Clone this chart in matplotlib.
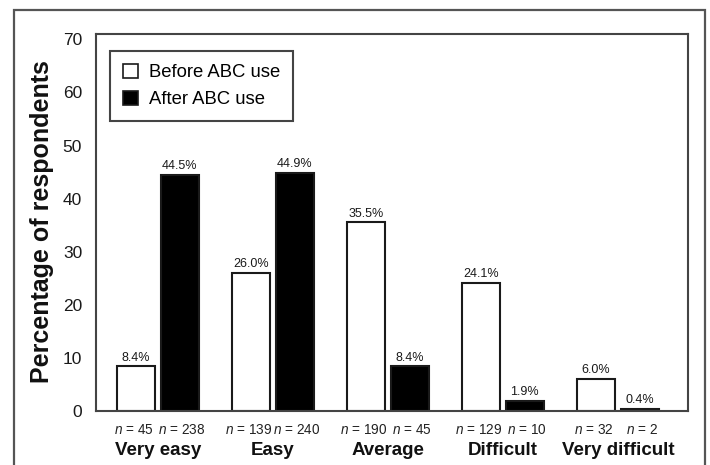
import matplotlib
matplotlib.use("Agg")
import matplotlib.pyplot as plt
from matplotlib.patches import Patch, Rectangle
import numpy as np

categories = ["Very easy", "Easy", "Average", "Difficult", "Very difficult"]
before_pct = [8.4, 26.0, 35.5, 24.1, 6.0]
after_pct = [44.5, 44.9, 8.4, 1.9, 0.4]
before_n = [45, 139, 190, 129, 32]
after_n = [238, 240, 45, 10, 2]
yticks = [0, 10, 20, 30, 40, 50, 60, 70]
legend_labels = ["Before ABC use", "After ABC use"]

plt.rcParams['font.family'] = ['Liberation Sans', 'DejaVu Sans']
plt.rcParams['mathtext.fontset'] = 'custom'
plt.rcParams['mathtext.it'] = 'Liberation Sans:italic'
plt.rcParams['mathtext.rm'] = 'Liberation Sans'

W, H = 710, 465
fig = plt.figure(figsize=(W / 100, H / 100), dpi=100)
fig.patch.set_facecolor('white')

# outer frame
fig.patches.append(Rectangle((14 / W, -0.05), (705 - 14) / W, 1.05 - 10 / H,
                             transform=fig.transFigure, fill=False,
                             edgecolor='#555555', linewidth=1.6))

ax = fig.add_axes([96 / W, 1 - 411 / H, (688 - 96) / W, (411 - 34) / H])
x = np.arange(len(categories))
bw = 0.33
off = 0.19
noff = 0.209
edge = '#1a1a1a'
ax.bar(x - off, before_pct, bw, color='white', edgecolor=edge, linewidth=1.5, zorder=2)
ax.bar(x + off, after_pct, bw, color='black', edgecolor=edge, linewidth=1.5, zorder=2)

ax.set_xlim(-0.54, 4.61)
ax.set_ylim(0, 71)
ax.set_yticks(yticks)
ax.set_yticklabels([str(t) for t in yticks], fontsize=12.5, color='#1a1a1a')
ax.tick_params(axis='y', length=0, pad=10)
ax.set_xticks([])
for s in ax.spines.values():
    s.set_color('#444444')
    s.set_linewidth(1.5)

pct_font = ['Liberation Sans Narrow', 'Liberation Sans', 'DejaVu Sans']
for xi, v in zip(x - off, before_pct):
    ax.text(xi, v + 0.5, f"{v:.1f}%", ha='center', va='bottom', fontsize=9,
            family=pct_font, color='#1a1a1a')
for xi, v in zip(x + off, after_pct):
    ax.text(xi, v + 0.5, f"{v:.1f}%", ha='center', va='bottom', fontsize=9,
            family=pct_font, color='#1a1a1a')

trans = ax.get_xaxis_transform()
for i in range(len(categories)):
    ax.text(x[i] - noff, -0.033, f"$n$ = {before_n[i]}", transform=trans,
            ha='center', va='top', fontsize=9.8, color='#222222')
    ax.text(x[i] + noff, -0.033, f"$n$ = {after_n[i]}", transform=trans,
            ha='center', va='top', fontsize=9.8, color='#222222')
    ax.text(x[i], -0.082, categories[i], transform=trans, ha='center', va='top',
            fontsize=13.5, fontweight='bold', color='#111111')

fig.text(42 / W, 1 - 222 / H, "Percentage of respondents", rotation=90,
         ha='center', va='center', fontsize=18, fontweight='bold', color='#111111')

handles = [Patch(facecolor='white', edgecolor=edge, linewidth=1.2),
           Patch(facecolor='black', edgecolor=edge, linewidth=1.2)]
leg = ax.legend(handles, legend_labels, loc='upper left',
                bbox_to_anchor=((110 - 96) / 592, (411 - 51) / 377),
                borderaxespad=0, fancybox=False, fontsize=13.3,
                handlelength=0.8, handleheight=0.8, handletextpad=0.6,
                labelspacing=0.5, borderpad=0.7, framealpha=1)
leg.get_frame().set_edgecolor('#444444')
leg.get_frame().set_linewidth(1.5)

fig.savefig("out.png", dpi=100)
